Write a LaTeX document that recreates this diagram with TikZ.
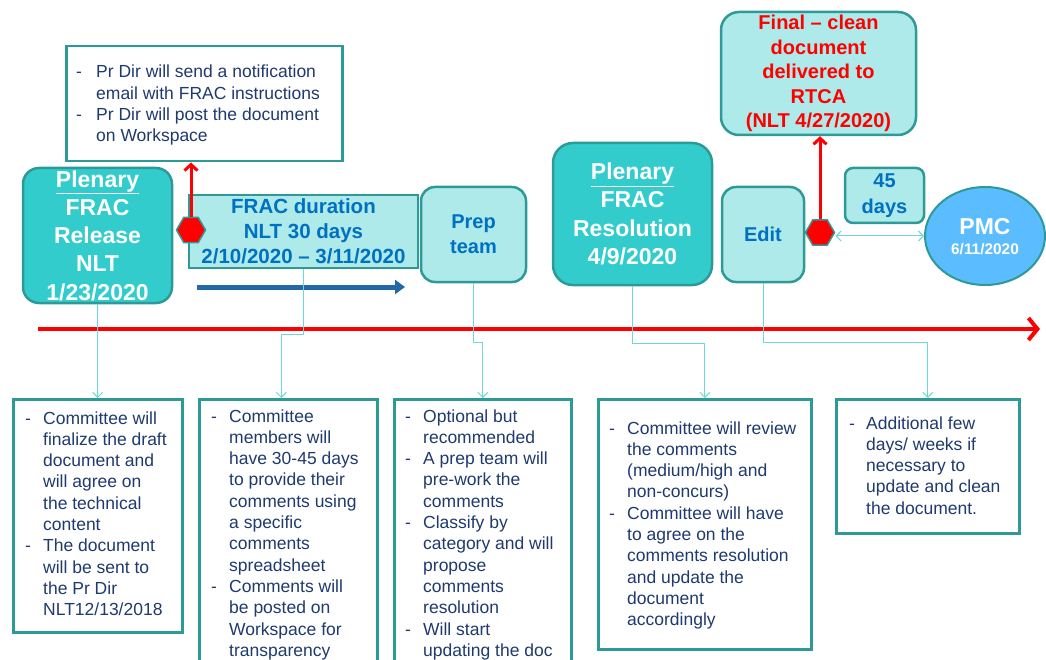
\documentclass[tikz,border=0pt]{standalone}
\usepackage{fontspec}
\setmainfont{Liberation Sans}
\usetikzlibrary{arrows.meta,shapes.geometric,calc}
\definecolor{tealb}{HTML}{2E9A98}
\definecolor{turq}{HTML}{33CCCC}
\definecolor{pale}{HTML}{AEEAEA}
\definecolor{navyt}{HTML}{1F3A6E}
\definecolor{bluet}{HTML}{0070C0}
\definecolor{connc}{HTML}{6CD8D8}
\definecolor{pmcblue}{HTML}{5BBDFF}
\definecolor{arrblue}{HTML}{2468A8}
\begin{document}
\begin{tikzpicture}[x=1pt,y=-1pt,
 plen/.style={draw=tealb,line width=2.5pt,fill=turq,rounded corners=16pt,text=white,font=\bfseries\fontsize{23}{28.3}\selectfont,align=center,inner sep=0pt},
 palebox/.style={draw=tealb,line width=2.5pt,fill=pale,text=bluet,font=\bfseries\fontsize{20}{25}\selectfont,align=center,inner sep=0pt},
 notebox/.style={draw=tealb,line width=2.5pt,fill=white,inner sep=0pt,anchor=north west},
 bodytext/.style={text=navyt,inner sep=0pt,anchor=base west,font=\fontsize{17.5}{21.3}\selectfont},
 conn/.style={draw=connc,line width=1pt,-{Straight Barb[length=5pt,width=10pt]}},
 redarr/.style={draw=red,line width=3pt,-{Straight Barb[length=6pt,width=13pt]}},
 hex/.style={regular polygon,regular polygon sides=6,minimum size=29pt,fill=red,draw=tealb,line width=1.5pt,inner sep=0pt}
]
\clip (0,0) rectangle (1046,660);
\fill[white] (0,0) rectangle (1046,660);

% top note
\node[notebox,minimum width=276pt,minimum height=115pt] (note) at (65,45) {};
\node[bodytext,font=\fontsize{17.5}{21.2}\selectfont] (notetext) at (76,78) {\begin{tabular}[t]{@{}p{20pt}@{}l@{}}
- & Pr Dir will send a notification\\ & email with FRAC instructions\\ - & Pr Dir will post the document\\ & on Workspace\end{tabular}};

% upper boxes
\node[plen,minimum width=149pt,minimum height=135pt] (plen1) at (97.5,235.5) {\underline{Plenary}\\FRAC\\Release\\NLT\\1/23/2020};
\node[palebox,rounded corners=0pt,font=\bfseries\fontsize{20.5}{25}\selectfont,minimum width=229pt,minimum height=73pt] (fracdur) at (303.5,231.5) {FRAC duration\\NLT 30 days\\2/10/2020 -- 3/11/2020};
\node[palebox,rounded corners=14pt,minimum width=105pt,minimum height=95pt] (prep) at (473.5,234.5) {Prep\\team};
\node[plen,rounded corners=20pt,minimum width=159pt,minimum height=142pt] (plen2) at (632.5,214) {\underline{Plenary}\\FRAC\\Resolution\\4/9/2020};
\node[palebox,rounded corners=14pt,minimum width=82pt,minimum height=95pt] (edit) at (763,234.5) {Edit};
\node[palebox,rounded corners=18pt,text=red,font=\bfseries\fontsize{20}{24.6}\selectfont,minimum width=195pt,minimum height=123pt] (final) at (818.5,73.5) {Final -- clean\\document\\delivered to\\RTCA\\(NLT 4/27/2020)};
\node[palebox,rounded corners=8pt,font=\bfseries\fontsize{20}{26}\selectfont,minimum width=79pt,minimum height=55pt] (days) at (884.5,195.5) {45\\days};
\node[ellipse,draw=tealb,line width=2pt,fill=pmcblue,minimum width=120pt,minimum height=98pt,inner sep=0pt] (pmc) at (985,236) {};
\node[text=white,font=\bfseries\fontsize{23}{23}\selectfont,anchor=base,inner sep=0pt] (pmct) at (985,234.5) {PMC};
\node[text=white,font=\bfseries\fontsize{15.4}{16}\selectfont,anchor=base,inner sep=0pt] (pmcd) at (985,254.5) {6/11/2020};

% hexagons and red arrows
\node[hex] (hex1) at (191,230) {};
\node[hex] (hex2) at (820,232.5) {};
\draw[redarr] (hex1.north) -- (hex1.north |- note.south);
\draw[redarr] (hex2.north) -- (hex2.north |- final.south);
\draw[draw=connc,line width=1pt,{Straight Barb[length=5pt,width=10pt]}-{Straight Barb[length=5pt,width=10pt]}] (hex2.east |- pmc.west) -- (pmc.west);

% blue arrow
\coordinate (ba1) at (197,287);
\coordinate (ba2) at (405,287);
\draw[line width=5pt,arrblue,-{Triangle[length=10pt,width=14pt]}] (ba1) -- (ba2);

% timeline
\coordinate (t1) at (38,329);
\coordinate (t2) at (1040,329);
\draw[red,line width=4pt,-{Straight Barb[length=9pt,width=22pt]}] (t1) -- (t2);

% bottom boxes
\node[notebox,minimum width=169pt,minimum height=233pt] (box1) at (12,398) {};
\node[notebox,minimum width=178pt,minimum height=280pt] (box2) at (198,398) {};
\node[notebox,minimum width=177pt,minimum height=280pt] (box3) at (393,398) {};
\node[notebox,minimum width=213pt,minimum height=250pt] (box4) at (597,398) {};
\node[notebox,minimum width=183pt,minimum height=134pt] (box5) at (835,398) {};

\node[bodytext] (t1x) at (25,424) {\begin{tabular}[t]{@{}p{18pt}@{}l@{}}
- & Committee will\\ & finalize the draft\\ & document and\\ & will agree on\\ & the technical\\ & content\\
- & The document\\ & will be sent to\\ & the Pr Dir\\ & NLT12/13/2018\end{tabular}};
\node[bodytext] (t2x) at (211,422) {\begin{tabular}[t]{@{}p{18pt}@{}l@{}}
- & Committee\\ & members will\\ & have 30-45 days\\ & to provide their\\ & comments using\\ & a specific\\ & comments\\ & spreadsheet\\
- & Comments will\\ & be posted on\\ & Workspace for\\ & transparency\end{tabular}};
\node[bodytext] (t3x) at (405,422) {\begin{tabular}[t]{@{}p{18pt}@{}l@{}}
- & Optional but\\ & recommended\\
- & A prep team will\\ & pre-work the\\ & comments\\
- & Classify by\\ & category and will\\ & propose\\ & comments\\ & resolution\\
- & Will start\\ & updating the doc\end{tabular}};
\node[bodytext] (t4x) at (609,434) {\begin{tabular}[t]{@{}p{18pt}@{}l@{}}
- & Committee will review\\ & the comments\\ & (medium/high and\\ & non-concurs)\\
- & Committee will have\\ & to agree on the\\ & comments resolution\\ & and update the\\ & document\\ & accordingly\end{tabular}};
\node[bodytext] (t5x) at (849,429) {\begin{tabular}[t]{@{}p{17pt}@{}l@{}}
- & Additional few\\ & days/ weeks if\\ & necessary to\\ & update and clean\\ & the document.\end{tabular}};

% connectors
\draw[conn] (plen1.south) -- (box1.north);
\draw[conn] (fracdur.south) -- ++(0,65) -| ([xshift=-7pt]box2.north);
\draw[conn] (prep.south) -- ++(0,59) -| (box3.north);
\draw[conn] (plen2.south) -- ++(0,57) -| (box4.north);
\draw[conn] (edit.south) -- ++(0,59) -| (box5.north);
\end{tikzpicture}
\end{document}
